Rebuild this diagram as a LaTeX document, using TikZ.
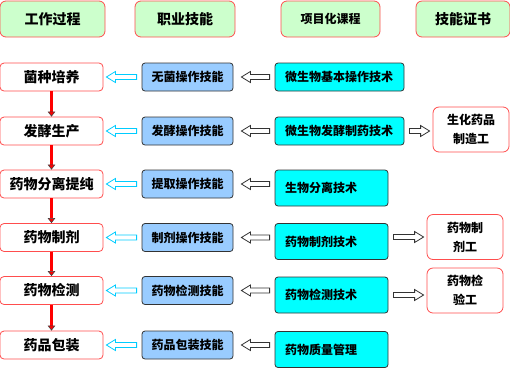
\documentclass[tikz,border=0pt]{standalone}
\usepackage{fontspec}
\setmainfont{Noto Sans CJK SC}
\usepackage{tikz}
\usetikzlibrary{arrows.meta,calc}

\definecolor{hdrfill}{RGB}{204,255,204}
\definecolor{boxred}{RGB}{255,77,77}
\definecolor{skillfill}{RGB}{153,204,255}
\definecolor{coursefill}{RGB}{0,255,255}
\definecolor{edgegray}{RGB}{51,51,51}
\definecolor{arrowcyan}{RGB}{0,204,255}

\begin{document}
\begin{tikzpicture}[>={Triangle[length=5pt, width=7.5pt, line width=0.6pt, color=black!75, fill=red]}, x=1pt, y=-1pt, tipgap/.initial=3pt]
			\tikzstyle{hdr}=[draw=boxred, fill=hdrfill, line width=0.8pt, rounded corners=6pt, minimum height=36pt, inner sep=0pt, font=\fontsize{14}{16}\selectfont\bfseries]
			\tikzstyle{proc}=[draw=boxred, fill=white, line width=0.8pt, rounded corners=4pt, minimum width=103pt, minimum height=28pt, inner sep=0pt, font=\fontsize{14}{16}\selectfont\bfseries]
			\tikzstyle{skill}=[draw=edgegray, fill=skillfill, line width=0.8pt, rounded corners=3pt, minimum width=91pt, minimum height=28pt, inner sep=0pt, font=\fontsize{12}{14}\selectfont\bfseries]
			\tikzstyle{course}=[draw=edgegray, fill=coursefill, line width=0.8pt, rounded corners=3pt, text width=109pt, inner xsep=10pt, inner ysep=0pt, minimum height=28pt, align=left, font=\fontsize{12}{14}\selectfont\bfseries]
			\tikzstyle{cert}=[draw=boxred, fill=white, line width=0.8pt, rounded corners=6pt, minimum width=76pt, minimum height=45pt, inner sep=0pt, align=center, font=\fontsize{12}{19}\selectfont\bfseries]
			\tikzstyle{flow}=[->, draw=red, line width=3pt]
			\tikzstyle{hol}=[line width=0.8pt, fill=white, line join=miter, to path={let \p1=(\tikztostart), \p2=(\tikztotarget), \n1={((\x2>\x1)*2-1)} in
				({\x1+(\n1)*5pt},{\y1+2.5pt}) -- ({\x2-(\n1)*(\pgfkeysvalueof{/tikz/tipgap}+9pt)},{\y1+2.5pt})
				-- ({\x2-(\n1)*(\pgfkeysvalueof{/tikz/tipgap}+9pt)},{\y1+5.5pt}) -- ({\x2-(\n1)*\pgfkeysvalueof{/tikz/tipgap}},\y1)
				-- ({\x2-(\n1)*(\pgfkeysvalueof{/tikz/tipgap}+9pt)},{\y1-5.5pt}) -- ({\x2-(\n1)*(\pgfkeysvalueof{/tikz/tipgap}+9pt)},{\y1-2.5pt})
				-- ({\x1+(\n1)*5pt},{\y1-2.5pt}) -- cycle}]
			\useasboundingbox (0,0) rectangle (510,368);
			% headings
			\node[hdr, minimum width=105pt] (hwork) at (52.5,19) {工作过程};
			\node[hdr, minimum width=100pt] (hjob) at (185,19) {职业技能};
			\node[hdr, minimum width=99pt, font=\fontsize{12}{14}\selectfont\bfseries] (hcourse) at (330.5,19) {项目化课程};
			\node[hdr, minimum width=94pt] (hcert) at (463,19) {技能证书};
			% work process
			\node[proc] (p1) at (51.5,77) {菌种培养};
			\node[proc] (p2) at (51.5,131) {发酵生产};
			\node[proc] (p3) at (51.5,184) {药物分离提纯};
			\node[proc] (p4) at (51.5,237.5) {药物制剂};
			\node[proc] (p5) at (51.5,290.5) {药物检测};
			\node[proc] (p6) at (51.5,345) {药品包装};
			% skills
			\node[skill] (s1) at (187.5,77) {无菌操作技能};
			\node[skill] (s2) at (187.5,131) {发酵操作技能};
			\node[skill] (s3) at (187.5,184) {提取操作技能};
			\node[skill] (s4) at (187.5,237.5) {制剂操作技能};
			\node[skill] (s5) at (187.5,290.5) {药物检测技能};
			\node[skill] (s6) at (187.5,345) {药品包装技能};
			% courses
			\node[course] (c1) at (339.5,77) {微生物基本操作技术};
			\node[course] (c2) at (339.5,131) {微生物发酵制药技术};
			\node[course, text width=93pt, minimum height=36pt] (c3) at (331.5,188) {生物分离技术};
			\node[course, text width=93pt, minimum height=36pt] (c4) at (331.5,241.5) {药物制剂技术};
			\node[course, text width=93pt, minimum height=36pt] (c5) at (331.5,295) {药物检测技术};
			\node[course, text width=93pt, minimum height=36pt] (c6) at (331.5,349.5) {药物质量管理};
			% certificates
			\node[cert] (z1) at (471,129.5) {生化药品\\制造工};
			\node[cert] (z2) at (465,237) {药物制\\剂工};
			\node[cert] (z3) at (465,290.5) {药物检\\验工};
			% process flow
			\draw[flow] (p1) -- (p2);
			\draw[flow] (p2) -- (p3);
			\draw[flow] (p3) -- (p4);
			\draw[flow] (p4) -- (p5);
			\draw[flow] (p5) -- (p6);
			% skill -> process
			\draw[hol, draw=arrowcyan] (s1.west) to (p1.east);
			\draw[hol, draw=arrowcyan] (s2.west) to (p2.east);
			\draw[hol, draw=arrowcyan] (s3.west) to (p3.east);
			\draw[hol, draw=arrowcyan] (s4.west) to (p4.east);
			\draw[hol, draw=arrowcyan] (s5.west) to (p5.east);
			\draw[hol, draw=arrowcyan] (s6.west) to (p6.east);
			% course -> skill
			\draw[hol, draw=edgegray, tipgap=8pt] (c1.west) to (s1.east);
			\draw[hol, draw=edgegray, tipgap=8pt] (c2.west) to (s2.east);
			\draw[hol, draw=edgegray, tipgap=8pt] (c3.west |- s3.east) to (s3.east);
			\draw[hol, draw=edgegray, tipgap=8pt] (c4.west |- s4.east) to (s4.east);
			\draw[hol, draw=edgegray, tipgap=8pt] (c5.west |- s5.east) to (s5.east);
			\draw[hol, draw=edgegray, tipgap=8pt] (c6.west |- s6.east) to (s6.east);
			% course -> certificate
			\draw[hol, draw=edgegray] (c2.east) to (z1.west);
			\draw[hol, draw=edgegray] (c4.east |- z2.west) to (z2.west);
			\draw[hol, draw=edgegray] (c5.east) to (z3.west);
		\end{tikzpicture}
\end{document}
